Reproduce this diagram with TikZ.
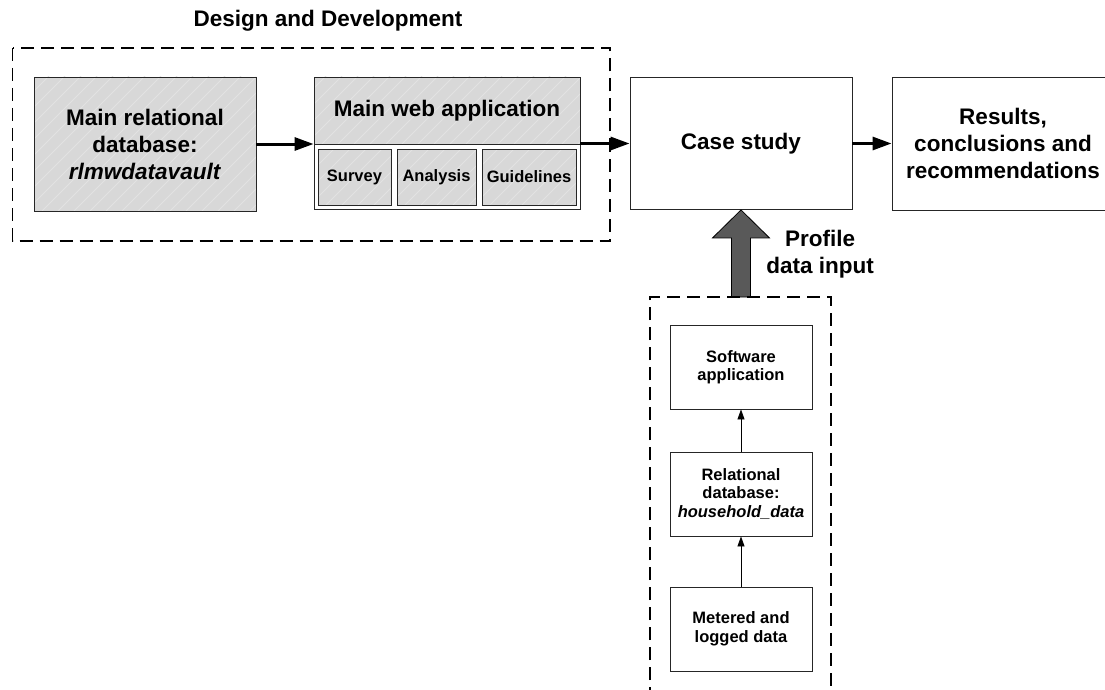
\documentclass[tikz,border=0pt]{standalone}
\usepackage{fontspec}
\setmainfont{Liberation Sans}
\usetikzlibrary{arrows.meta,calc}

\definecolor{shadefill}{HTML}{D8D8D8}
\definecolor{hatchline}{HTML}{E2E2E2}
\definecolor{inputarrow}{HTML}{595959}

\tikzset{
  bigtext/.style={font=\bfseries\fontsize{22.5}{27}\selectfont, align=center},
  smalltext/.style={font=\bfseries\fontsize{16.5}{18.5}\selectfont, align=center},
  box/.style={draw=black!85, line width=0.9pt, rectangle, inner sep=0pt, fill=white},
  shaded/.style={box, fill=shadefill,
    path picture={
      \foreach \k in {-280,-264,...,280}
        \draw[hatchline, line width=1pt]
          ($(path picture bounding box.south west)+(\k,0)$) -- ++(260,-260);
    }},
  group/.style={draw=black, line width=1.3pt, dash pattern=on 13pt off 7pt},
  flow/.style={line width=3pt, -{Triangle[length=19pt,width=13pt]}},
  feed/.style={line width=0.8pt, -{Triangle[length=10pt,width=7pt]}},
  bigarrow/.style={draw=black, line width=0.8pt, fill=inputarrow},
}

\begin{document}
\begin{tikzpicture}[x=1pt,y=-1pt]
\useasboundingbox (0,0) rectangle (1105,690);
\clip (0,0) rectangle (1105,690);

% design and development group
\node[bigtext, anchor=base] (title) at (328,27) {Design and Development};
\draw[group] (12.5,48) rectangle (610,241);

\node[shaded, bigtext, minimum width=222pt, minimum height=134pt] (db) at (145,144)
  {Main relational\\database:\\\textit{rlmwdatavault}};

\node[box, minimum width=266pt, minimum height=132pt] (webapp) at (447,143.5) {};
\node[shaded, bigtext, minimum width=266pt, minimum height=67pt] (webtitle) at (447,110.5)
  {Main web application};
\node[shaded, smalltext, minimum width=73pt, minimum height=56pt] (survey) at (354.5,177) {Survey};
\node[shaded, smalltext, minimum width=79pt, minimum height=56pt] (analysis) at (436.5,177) {Analysis};
\node[shaded, smalltext, minimum width=94pt, minimum height=56pt] (guide) at (529,177) {Guidelines};

% main flow
\node[box, bigtext, minimum width=222pt, minimum height=132pt] (case) at (741,143.5) {Case study};
\node[box, bigtext, minimum width=222pt, minimum height=133pt] (results) at (1003,143.5)
  {Results,\\conclusions and\\recommendations};

\draw[flow] (db.east) -- (db.east -| webapp.west);
\draw[flow] (webapp.east) -- (webapp.east -| case.west);
\draw[flow] (case.east) -- (case.east -| results.west);

% profile data pipeline
\coordinate (tip) at (case.south);
\coordinate (feedtop) at (741,297);
\path[bigarrow] (tip) -- ++(28.5,28) -- ++(-19,0) -- ($(feedtop)+(9.5,0)$)
  -- ($(feedtop)+(-9.5,0)$) -- ($(tip)+(-9.5,28)$) -- ($(tip)+(-28.5,28)$) -- cycle;
\node[bigtext, inner sep=0pt] (profile) at (820,253.7) {Profile\\data input};

\draw[group] (650,700) -- (650,297) -- (831,297) -- (831,700);

\node[box, smalltext, minimum width=142pt, minimum height=84pt] (soft) at (741,367)
  {Software\\application};
\node[box, smalltext, minimum width=142pt, minimum height=84pt] (rel) at (741,494)
  {Relational\\database:\\\textit{household\_data}};
\node[box, smalltext, minimum width=142pt, minimum height=84pt] (met) at (741,629)
  {Metered and\\logged data};

\draw[feed] (met.north) -- (rel.south);
\draw[feed] (rel.north) -- (soft.south);
\end{tikzpicture}
\end{document}
